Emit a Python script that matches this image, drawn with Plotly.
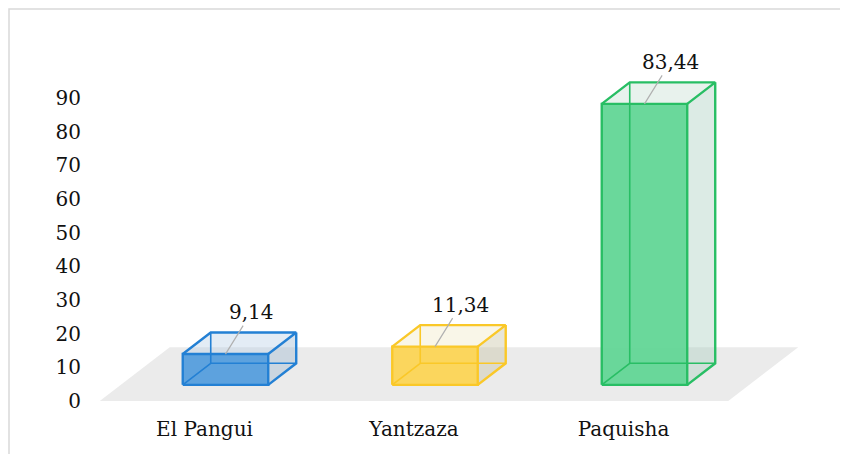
import plotly.graph_objects as go

# ---------------- data ----------------
categories = ["El Pangui", "Yantzaza", "Paquisha"]
values = [9.14, 11.34, 83.44]
value_labels = ["9,14", "11,34", "83,44"]
y_ticks = [0, 10, 20, 30, 40, 50, 60, 70, 80, 90]

# ---------------- style ----------------
front_colors = ["rgba(80,155,220,0.92)", "rgba(252,212,80,0.92)", "rgba(98,214,150,0.95)"]
edge_colors = ["rgb(35,128,212)", "rgb(250,200,40)", "rgb(40,190,100)"]
top_colors = ["rgba(175,200,225,0.35)", "rgba(235,225,180,0.30)", "rgba(185,215,200,0.32)"]
side_colors = ["rgba(160,185,210,0.42)", "rgba(200,195,165,0.42)", "rgba(172,207,192,0.42)"]
floor_color = "#ebebeb"
FONT = "DejaVu Serif"

OFF = 8                      # page body margin of the html page
WIN_W, WIN_H = 848, 454
W, H = WIN_W - OFF, WIN_H - OFF
# plot area in window pixels
PL, PR, PT, PB = 88, 840, 20, 415
ML, MR, MT, MB = PL - OFF, W - (PR - OFF), PT - OFF, H - (PB - OFF)

PX_PER_CAT = 209.5
PX_PER_UNIT = 3.367
X0_PX = 204.5   # window pixel x of category 0 at the floor front
Y0_PX = 401.0   # window pixel y of value 0 at the floor front
DX = 0.334      # full floor depth, x shift in category units
DY = 16.0       # full floor depth, y shift in value units
Z_FRONT, Z_BACK = 0.3, 0.7
HALF_W = 0.204

x_range = [(PL - X0_PX) / PX_PER_CAT, (PR - X0_PX) / PX_PER_CAT]
y_range = [(Y0_PX - PB) / PX_PER_UNIT, (Y0_PX - PT) / PX_PER_UNIT]

fig = go.Figure()


def poly(xs, ys, fill):
    fig.add_trace(go.Scatter(
        x=xs + [xs[0]], y=ys + [ys[0]], mode="lines", fill="toself",
        fillcolor=fill, line=dict(color="rgba(0,0,0,0)", width=0),
        hoverinfo="skip", showlegend=False))


def seg(xs, ys, color, width):
    fig.add_trace(go.Scatter(x=xs, y=ys, mode="lines",
                             line=dict(color=color, width=width),
                             hoverinfo="skip", showlegend=False))


# floor
n = len(categories)
fx0, fx1 = -0.5, n - 0.5
poly([fx0, fx1, fx1 + DX, fx0 + DX], [0, 0, DY, DY], floor_color)

# bars
for i, v in enumerate(values):
    xf0 = i - HALF_W + Z_FRONT * DX
    xf1 = i + HALF_W + Z_FRONT * DX
    yb = Z_FRONT * DY
    yt = yb + v
    sx = (Z_BACK - Z_FRONT) * DX
    sy = (Z_BACK - Z_FRONT) * DY
    ec = edge_colors[i]
    # faces
    poly([xf0, xf1, xf1 + sx, xf0 + sx], [yt, yt, yt + sy, yt + sy], top_colors[i])
    poly([xf1, xf1, xf1 + sx, xf1 + sx], [yb, yt, yt + sy, yb + sy], side_colors[i])
    poly([xf0, xf1, xf1, xf0], [yb, yb, yt, yt], front_colors[i])
    # hidden edges
    seg([xf0, xf0 + sx, xf0 + sx], [yb, yb + sy, yt + sy], ec, 1.6)
    seg([xf0 + sx, xf1 + sx], [yb + sy, yb + sy], ec, 1.6)
    # visible edges
    seg([xf0, xf1, xf1, xf0, xf0], [yb, yb, yt, yt, yb], ec, 2.4)
    seg([xf0, xf0 + sx, xf1 + sx, xf1], [yt, yt + sy, yt + sy, yt], ec, 2.4)
    seg([xf1 + sx, xf1 + sx, xf1], [yt + sy, yb + sy, yb], ec, 2.4)
    # value label with leader line
    fig.add_annotation(x=i + Z_FRONT * DX, y=yt, text=value_labels[i],
                       showarrow=True, arrowhead=0, arrowwidth=1.2,
                       arrowcolor="#b0b0b0", ax=26, ay=-42, standoff=0,
                       font=dict(family=FONT, size=20, color="#111111"))

# outer border (left/top edges inside the page, right/bottom beyond it)
px_w = PR - PL
px_h = PB - PT
fig.add_shape(type="rect", xref="paper", yref="paper",
              x0=(OFF + 1 - PL) / px_w, x1=(WIN_W + 5 - PL) / px_w,
              y0=(PB - (WIN_H + 5)) / px_h, y1=(PB - 9) / px_h,
              line=dict(color="#d9d9d9", width=1.5), fillcolor="rgba(0,0,0,0)",
              layer="below")

fig.update_layout(
    width=W, height=H,
    margin=dict(l=ML, r=MR, t=MT, b=MB),
    paper_bgcolor="white", plot_bgcolor="white",
    font=dict(family=FONT, size=20, color="#111111"),
    xaxis=dict(range=x_range, tickvals=list(range(n)), ticktext=categories,
               showgrid=False, zeroline=False, showline=False, ticks="",
               fixedrange=True),
    yaxis=dict(range=y_range, tickvals=y_ticks, ticktext=[str(t) for t in y_ticks],
               showgrid=False, zeroline=False, showline=False, ticks="",
               ticklabelstandoff=6, fixedrange=True),
    showlegend=False,
)

fig.write_html("out.html")
